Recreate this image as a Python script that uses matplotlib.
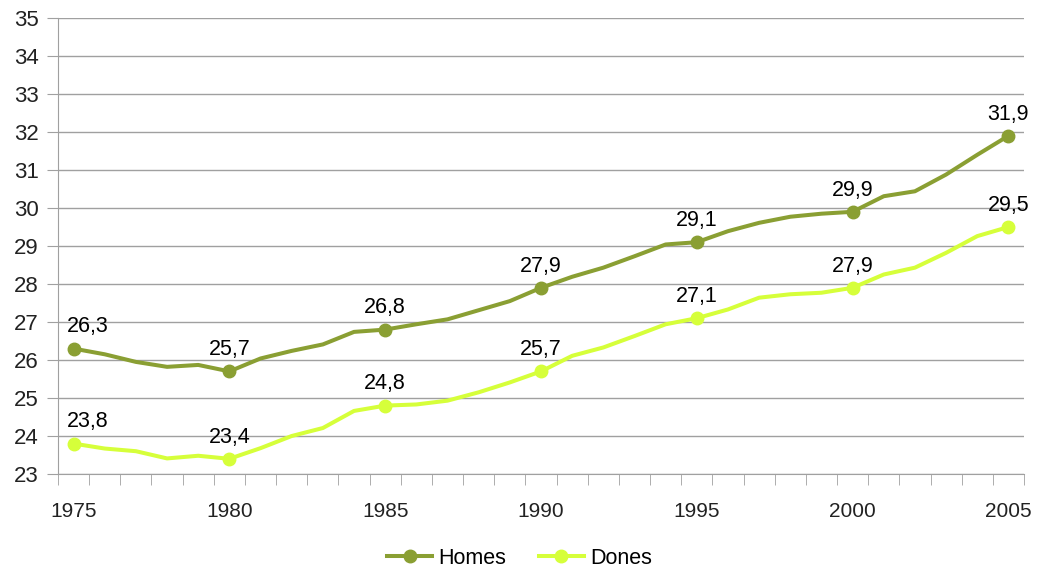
import numpy as np
import matplotlib
matplotlib.use('Agg')
import matplotlib.pyplot as plt

# Years on the x axis
years = list(range(1975, 2006))

# Average age, men
homes = [26.3, 26.15, 25.95, 25.82, 25.87, 25.7, 26.04, 26.24, 26.41, 26.74,
         26.8, 26.94, 27.07, 27.31, 27.55, 27.9, 28.19, 28.43, 28.73, 29.04,
         29.1, 29.39, 29.61, 29.77, 29.85, 29.9, 30.31, 30.44, 30.88, 31.4,
         31.9]

# Average age, women
dones = [23.8, 23.67, 23.6, 23.41, 23.48, 23.4, 23.68, 24.0, 24.21, 24.66,
         24.8, 24.83, 24.93, 25.15, 25.41, 25.7, 26.11, 26.33, 26.63, 26.94,
         27.1, 27.33, 27.64, 27.73, 27.77, 27.9, 28.25, 28.43, 28.82, 29.26,
         29.5]

label_years = [1975, 1980, 1985, 1990, 1995, 2000, 2005]
y_ticks = list(range(23, 36))

col_homes = '#8A9F33'
col_dones = '#D6FF3A'

plt.rcParams['font.family'] = ['Liberation Sans', 'DejaVu Sans']

fig = plt.figure(figsize=(10.41, 5.70), dpi=100)
ax = fig.add_axes([58 / 1041, 1 - 474 / 570, (1024 - 58) / 1041, (474 - 18) / 570])

marks = [years.index(y) for y in label_years]

# Plot lines
ax.plot(years, homes, color=col_homes, lw=2.9, marker='o', ms=9,
        markevery=marks, label='Homes', zorder=3)
ax.plot(years, dones, color=col_dones, lw=2.9, marker='o', ms=9,
        markevery=marks, label='Dones', zorder=3)

# Data labels
for series in (homes, dones):
    for i in marks:
        dx = 10 if years[i] == 1975 else 0
        txt = ('%.1f' % series[i]).replace('.', ',')
        ax.annotate(txt, (years[i], series[i]), xytext=(dx, 8),
                    textcoords='offset points', ha='center', va='bottom',
                    fontsize=15.5, color='black')

# Axes
ax.set_xlim(1974.5, 2005.5)
ax.set_ylim(23, 35)
ax.set_yticks(y_ticks)
ax.set_xticks(label_years)
ax.set_xticks(np.arange(1974.5, 2006, 1), minor=True)
ax.tick_params(axis='x', which='major', length=0, pad=20, labelsize=15,
               labelcolor='#222222')
ax.tick_params(axis='x', which='minor', length=8, color='#A0A0A0')
ax.tick_params(axis='y', length=8, color='#A0A0A0', labelsize=16, pad=6,
               labelcolor='#222222')
ax.grid(axis='y', color='#A0A0A0', lw=1)
ax.set_axisbelow(True)
for s in ['top', 'right']:
    ax.spines[s].set_visible(False)
for s in ['left', 'bottom']:
    ax.spines[s].set_color('#A0A0A0')

# Legend
ax.legend(loc='center', bbox_to_anchor=(0.478, -0.185), ncol=2, frameon=False,
          fontsize=15.5, handlelength=2.1, columnspacing=1.5, handletextpad=0.3)

fig.savefig('out.png', dpi=100)
